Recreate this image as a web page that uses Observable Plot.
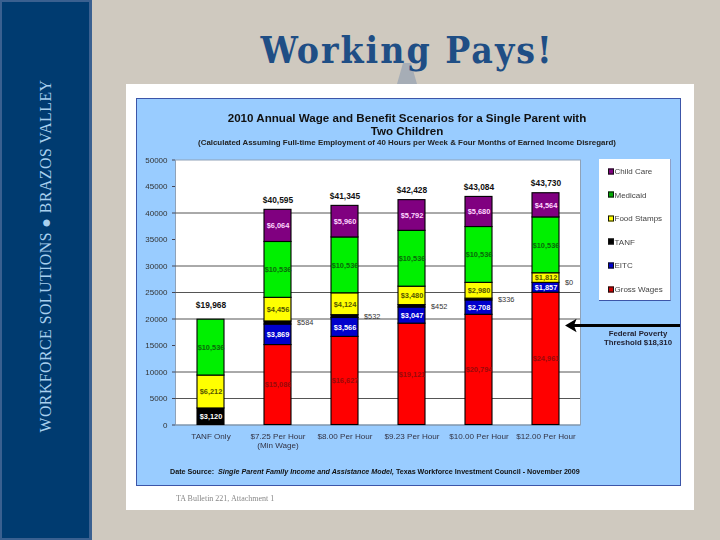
<!DOCTYPE html>
<html><head><meta charset="utf-8">
<script src="https://cdn.jsdelivr.net/npm/d3@7"></script>
<script src="https://cdn.jsdelivr.net/npm/@observablehq/plot@0.6"></script>
<style>
html,body{margin:0;padding:0;background:#cfc9bf;width:720px;height:540px;overflow:hidden}
.a{position:absolute;white-space:nowrap}
body{font-family:"Liberation Sans",sans-serif}
</style></head><body>
<div class="a" style="left:0;top:0;background:#003b70;border:1px solid #3a6090;border-width:2px 3px 2px 2px;box-sizing:border-box;width:92px;height:540px"></div>
<div class="a" style="left:46px;top:255.5px;transform:translate(-50%,-50%) rotate(-90deg);font:15.8px 'Liberation Serif',serif;color:#a9d0ee;letter-spacing:.5px">WORKFORCE SOLUTIONS ● BRAZOS VALLEY</div>
<div class="a" style="left:397px;top:63px;width:20px;height:21px;background:#a6adb6;clip-path:polygon(30% 0,70% 0,100% 100%,0 100%)"></div>
<div class="a" style="left:407px;top:50px;transform:translate(-50%,-50%);font:bold 37px 'DejaVu Serif Condensed','DejaVu Serif',serif;color:#1f4e85;letter-spacing:2px">Working Pays!</div>
<div class="a" style="left:126px;top:84px;width:568px;height:426px;background:#fff"></div>
<div class="a" style="left:136px;top:98px;width:545px;height:388px;background:#99ccff;border:1px solid #3c55a8;box-sizing:border-box"></div>
<div id="txt" style="filter:blur(.25px)">
<div class="a" style="left:407px;top:117px;transform:translate(-50%,-50%);font-weight:bold;font-size:11.6px;color:#111">2010 Annual Wage and Benefit Scenarios for a Single Parent with</div>
<div class="a" style="left:407px;top:130px;transform:translate(-50%,-50%);font-weight:bold;font-size:11.6px;color:#111">Two Children</div>
<div class="a" style="left:407px;top:142px;transform:translate(-50%,-50%);font-weight:bold;font-size:7.9px;color:#222">(Calculated Assuming Full-time Employment of 40 Hours per Week &amp; Four Months of Earned Income Disregard)</div>
<div class="a" style="left:170px;top:472px;transform:translateY(-50%);font-weight:bold;font-size:7.15px;color:#111">Date Source:&nbsp; <i>Single Parent Family Income and Assistance Model,</i> Texas Workforce Investment Council - November 2009</div>
<div class="a" style="left:176px;top:498px;transform:translateY(-50%);font:8px 'Liberation Serif',serif;color:#888">TA Bulletin 221, Attachment 1</div>
<div class="a" style="left:638px;top:333px;transform:translate(-50%,-50%);font-weight:bold;font-size:7.8px;color:#223">Federal Poverty</div>
<div class="a" style="left:638px;top:342px;transform:translate(-50%,-50%);font-weight:bold;font-size:7.8px;color:#223">Threshold $18,310</div>
<div id="legend" class="a" style="left:599px;top:159px;width:72px;height:142px;background:#fff;border-bottom:1px solid #3c55a8;border-right:1px solid #8fa0c8;box-sizing:border-box"></div>
</div>
<div id="chart"></div>
<script>
const categories = ["TANF Only","$7.25 Per Hour\n(Min Wage)","$8.00 Per Hour","$9.23 Per Hour","$10.00 Per Hour","$12.00 Per Hour"];
const seriesNames = ["Gross Wages","EITC","TANF","Food Stamps","Medicaid","Child Care"];
const grossWages = [0,15086,16627,19121,20794,24961];
const eitc = [0,3869,3566,3047,2708,1857];
const tanf = [3120,584,532,452,336,0];
const foodStamps = [6212,4456,4124,3480,2980,1812];
const medicaid = [10536,10536,10536,10536,10536,10536];
const childCare = [0,6064,5960,5792,5680,4564];
const totals = ["$19,968","$40,595","$41,345","$42,428","$43,084","$43,730"];
const gridValues = [40000,30000,25000,20000,10000,5000];
const yTicks = [0,5000,10000,15000,20000,25000,30000,35000,40000,45000,50000];
const threshold = 18310;
const fills = ["#ff0000","#0000cc","#000000","#ffff00","#00f000","#800080"];
const labelColors = ["#9a0a0a","#ffffff","#ffffff","#555500","#0a6a0a","#ffd8ff"];
const legendFills = ["#800080","#00aa00","#ffff00","#000000","#0000cc","#cc0000"];
const legendNames = ["Child Care","Medicaid","Food Stamps","TANF","EITC","Gross Wages"];

const columns = [grossWages,eitc,tanf,foodStamps,medicaid,childCare];
const rows = [];
categories.forEach((c,i)=>columns.forEach((col,s)=>{
  rows.push({category:c,series:seriesNames[s],value:col[i],label:"$"+d3.format(",")(col[i]),color:labelColors[s]});
}));
const stackOpts = {x:"category",y:"value",z:"series",order:seriesNames};
const sums = categories.map((c,i)=>({category:c,total:d3.sum(columns,col=>col[i]),label:totals[i]}));
const isOutside = d=>d.series==="TANF" && d.category!=="TANF Only" || (d.series==="TANF" && d.value===0);
const isInside = d=>d.value>0 && !isOutside(d);
const leftArrow = {draw(ctx,size){
  const r=Math.sqrt(size);
  ctx.moveTo(-r,0);ctx.lineTo(r*.55,-r*.9);ctx.lineTo(r*.2,0);ctx.lineTo(r*.55,r*.9);ctx.closePath();
}};

const plot = Plot.plot({
  width:720,height:540,
  marginLeft:175,marginRight:140,marginTop:159.5,marginBottom:115.5,
  style:{background:"transparent",position:"absolute",left:"0",top:"0",fontFamily:"Liberation Sans",filter:"blur(.25px)"},
  x:{domain:categories,paddingInner:0.6,paddingOuter:0.3,label:null},
  y:{domain:[0,50000],label:null},
  color:{domain:seriesNames,range:fills},
  marks:[
    Plot.frame({fill:"#fff",stroke:"#8fa2b8"}),
    Plot.ruleY(gridValues,{stroke:"#555",strokeWidth:1}),
    Plot.ruleY([0],{stroke:"#7890a8"}),
    Plot.barY(rows,Plot.stackY({...stackOpts,fill:"series",stroke:"#000",strokeWidth:1.1,filter:d=>d.value>0})),
    Plot.text(rows,Plot.stackY({...stackOpts,text:d=>isInside(d)?d.label:"",fill:"color",fontSize:7.4,fontWeight:"bold"})),
    Plot.text(rows,Plot.stackY({...stackOpts,text:d=>isOutside(d)?d.label:"",fill:"#333",fontSize:7.4,textAnchor:"start",dx:19})),
    Plot.text(sums,{x:"category",y:"total",text:"label",dy:-10,fill:"#111",fontSize:8.4,fontWeight:"bold",filter:d=>d.category!=="TANF Only"}),
    Plot.text(sums,{x:"category",y:"total",text:"label",dy:-14,fill:"#111",fontSize:8.4,fontWeight:"bold",filter:d=>d.category==="TANF Only"}),
    Plot.ruleY([threshold],{stroke:"#000",strokeWidth:3,insetLeft:397,insetRight:-100,dy:-2.5}),
    Plot.dot([threshold],{y:d=>d,frameAnchor:"right",dx:-8,dy:-2.5,symbol:leftArrow,r:4.2,fill:"#000",stroke:"none"}),
    Plot.axisY({ticks:yTicks,tickFormat:d=>String(d),tickSize:3,tickPadding:5,fontSize:8,stroke:"#445",color:"#333",label:null}),
    Plot.axisX({tickSize:0,tickPadding:7,fontSize:8.1,color:"#334",label:null,lineHeight:1.15})
  ]
});
document.getElementById("chart").appendChild(plot);

const legend = document.getElementById("legend");
legendNames.forEach((n,i)=>{
  const row = document.createElement("div");
  row.className="a";
  row.style.cssText=`left:9px;top:${12+i*23.6}px;transform:translateY(-50%);font-size:8px;color:#444;display:flex;align-items:center`;
  row.innerHTML=`<span style="display:inline-block;width:4px;height:4px;background:${legendFills[i]};border:.5px solid #111;margin-right:.5px"></span>${n}`;
  legend.appendChild(row);
});
</script>
</body></html>
